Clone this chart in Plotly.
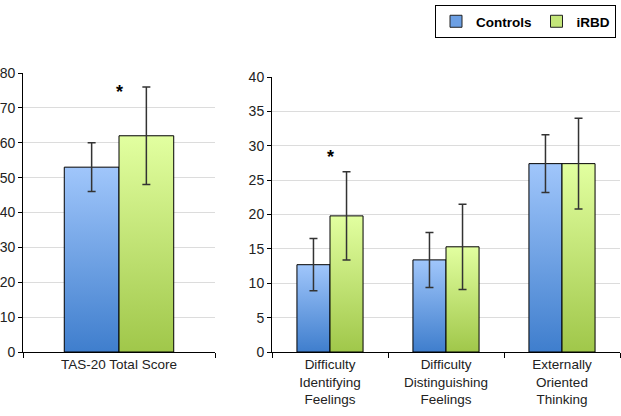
import plotly.graph_objects as go

# data
total_cats = ["TAS-20 Total Score"]
total_controls = [53.0]
total_controls_sd = [7.0]
total_irbd = [62.0]
total_irbd_sd = [14.0]

sub_cats = ["Difficulty<br>Identifying<br>Feelings",
            "Difficulty<br>Distinguishing<br>Feelings",
            "Externally<br>Oriented<br>Thinking"]
sub_controls = [12.7, 13.4, 27.4]
sub_controls_sd = [3.8, 4.0, 4.2]
sub_irbd = [19.8, 15.3, 27.4]
sub_irbd_sd = [6.4, 6.2, 6.6]

BLUE = [[0, "#3f7ecd"], [1, "#a0c6fb"]]
GREEN = [[0, "#a0c74a"], [1, "#e2ffa0"]]
BW = 0.285  # bar width in category units
FONT = "Liberation Sans, Arial, sans-serif"

fig = go.Figure()


def add_group(means, sds, scale, name, side, xa, ya):
    for i, (m, s) in enumerate(zip(means, sds)):
        x0 = i + (-BW if side < 0 else 0)
        x1 = x0 + BW
        fig.add_trace(go.Scatter(
            x=[x0, x0, x1, x1, x0], y=[0, m, m, 0, 0],
            mode="lines", fill="toself",
            fillgradient=dict(type="vertical", colorscale=scale),
            line=dict(color="black", width=1),
            name=name, showlegend=False,
            hoverinfo="skip", xaxis=xa, yaxis=ya))
    fig.add_trace(go.Scatter(
        x=[i + side * BW / 2 for i in range(len(means))], y=means,
        mode="markers", marker=dict(size=1, color="rgba(0,0,0,0)"),
        error_y=dict(type="data", array=sds, color="#333333", thickness=1.5, width=4),
        showlegend=False, xaxis=xa, yaxis=ya))


add_group(total_controls, total_controls_sd, BLUE, "Controls", -1, "x", "y")
add_group(total_irbd, total_irbd_sd, GREEN, "iRBD", 1, "x", "y")
add_group(sub_controls, sub_controls_sd, BLUE, "Controls", -1, "x2", "y2")
add_group(sub_irbd, sub_irbd_sd, GREEN, "iRBD", 1, "x2", "y2")

# legend-only entries (drawn off the visible range)
for nm, col in [("Controls", "#6c9fe3"), ("iRBD", "#c4e67a")]:
    fig.add_trace(go.Bar(x=[-10], y=[1], name="<b>" + nm + "</b>",
                         marker=dict(color=col, line=dict(color="#222", width=1)),
                         xaxis="x", yaxis="y", hoverinfo="skip"))

fig.add_annotation(x=0, y=74.5, xref="x", yref="y", text="<b>*</b>",
                   showarrow=False, font=dict(size=18, color="black"))
fig.add_annotation(x=0, y=28.3, xref="x2", yref="y2", text="<b>*</b>",
                   showarrow=False, font=dict(size=18, color="black"))

xcommon = dict(showgrid=False, zeroline=False, showline=True, linecolor="black",
               linewidth=1, ticks="", tickfont=dict(size=13.5, color="#222"),
               automargin=False,
               minor=dict(ticks="outside", tick0=-0.5, dtick=1, ticklen=5,
                          tickcolor="black", showgrid=False))
ycommon = dict(showgrid=True, gridcolor="#dcdcdc", zeroline=False, showline=True,
               linecolor="black", linewidth=1, ticks="outside", ticklen=4,
               tickcolor="black", tickfont=dict(size=14, color="#222"),
               automargin=False)

fig.update_layout(
    width=621, height=416,
    margin=dict(l=0, r=0, t=0, b=0),
    paper_bgcolor="white", plot_bgcolor="white",
    font=dict(family=FONT, color="#222"),
    xaxis=dict(domain=[23 / 621, 215 / 621], range=[-0.5, 0.5],
               tickvals=[0], ticktext=total_cats, anchor="y", **xcommon),
    yaxis=dict(domain=[1 - 352 / 416, 1 - 73 / 416], range=[0, 80], dtick=10,
               anchor="x", **ycommon),
    xaxis2=dict(domain=[272 / 621, 620 / 621], range=[-0.5, 2.5],
                tickvals=[0, 1, 2], ticktext=sub_cats, anchor="y2", **xcommon),
    yaxis2=dict(domain=[1 - 352 / 416, 1 - 77 / 416], range=[0, 40], dtick=5,
                anchor="x2", **ycommon),
    legend=dict(orientation="h", x=616 / 621, y=1 - 5 / 416, xanchor="right",
                yanchor="top", bordercolor="black", borderwidth=1,
                font=dict(size=13.5, color="black", family=FONT),
                itemwidth=30, tracegroupgap=0),
    showlegend=True,
)

# drop the default page margin so the figure sits at the window corner
fig.write_html("out.html", config={"displayModeBar": False},
               post_script="document.body.style.margin='0';")
